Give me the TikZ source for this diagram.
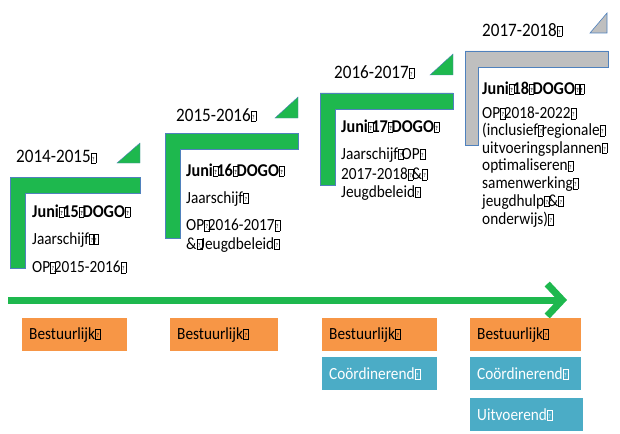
\documentclass[tikz,border=0pt]{standalone}
\usepackage{fontspec}
\setmainfont{Carlito}[FakeStretch=0.9]
\usetikzlibrary{arrows.meta}
\definecolor{lgreen}{RGB}{30,184,78}
\definecolor{lorange}{RGB}{247,150,70}
\definecolor{lblue}{RGB}{75,172,198}
\definecolor{lgray}{RGB}{191,191,191}
\definecolor{ledge}{RGB}{79,129,189}
% missing-glyph box as the picture prints it
\newcommand{\qb}{\makebox[3.6pt][l]{\fboxsep=0pt\fboxrule=0.4pt\fbox{\makebox[4.6pt]{\rule{0pt}{10pt}\raisebox{1.8pt}{\fontsize{6}{6}\selectfont ?}}}}}
\tikzset{
  yeartitle/.style={anchor=west,inner sep=0pt,font=\fontsize{19}{22}\selectfont},
  bodytext/.style={anchor=west,inner sep=0pt,font=\fontsize{17}{18}\selectfont},
  dogo/.style={bodytext,font=\fontsize{18}{19}\selectfont\bfseries},
  lbar/.style={fill=lgreen,draw=ledge,line width=0.4pt},
  lbargray/.style={fill=lgray,draw=ledge,line width=0.6pt},
  timeline/.style={draw=lgreen,line width=7pt,-{Straight Barb[length=15pt,width=32pt]}},
  box/.style={anchor=north west,minimum height=33pt,inner xsep=7pt,inner ysep=0pt,
    align=left,font=\fontsize{17}{19}\selectfont},
  orangebox/.style={box,fill=lorange,text=black},
  bluebox/.style={box,fill=lblue,text=white}
}
\begin{document}
\begin{tikzpicture}[x=1pt,y=-1pt]
\useasboundingbox (0,0) rectangle (620,433);
% 2014-2015
\draw[lbar] (117,163) -- (140,163) -- (140,143) -- cycle;
\draw[lbar] (10,177) -- (140,177) -- (140,193) -- (25,193) -- (25,268) -- (10,268) -- cycle;
\node[yeartitle] (t1) at (16,157) {2014-2015\qb};
\node[dogo] (j1) at (32,211) {Juni\qb15\qb DOGO\qb};
\node[bodytext] (a1) at (32,240) {Jaarschijf\qb\qb};
\node[bodytext] (b1) at (32,267) {OP\qb2015-2016\qb};
% 2015-2016
\draw[lbar] (275,118) -- (298,118) -- (298,97) -- cycle;
\draw[lbar] (165,133) -- (298,133) -- (298,149) -- (180,149) -- (180,238) -- (165,238) -- cycle;
\node[yeartitle] (t2) at (176,115) {2015-2016\qb};
\node[dogo] (j2) at (186,170) {Juni\qb16\qb DOGO\qb};
\node[bodytext] (a2) at (186,199) {Jaarschijf\qb};
\node[bodytext] (b2) at (186,225) {OP\qb2016-2017\qb};
\node[bodytext] (c2) at (186,245) {\&\qb Jeugdbeleid\qb};
% 2016-2017
\draw[lbar] (430,75) -- (453,75) -- (453,54) -- cycle;
\draw[lbar] (320,93) -- (453,93) -- (453,109) -- (335,109) -- (335,185) -- (320,185) -- cycle;
\node[yeartitle] (t3) at (334,72) {2016-2017\qb};
\node[dogo] (j3) at (341,126) {Juni\qb17\qb DOGO\qb};
\node[bodytext] (a3) at (341,155) {Jaarschijf\qb OP\qb};
\node[bodytext] (b3) at (341,174) {2017-2018\qb\&\qb};
\node[bodytext] (c3) at (341,193) {Jeugdbeleid\qb};
% 2017-2018
\draw[lbargray] (590,33) -- (607,33) -- (607,13) -- cycle;
\draw[lbargray] (465,51) -- (608,51) -- (608,67) -- (478,67) -- (478,145) -- (465,145) -- cycle;
\node[yeartitle] (t4) at (482,30) {2017-2018\qb};
\node[dogo] (j4) at (482,88) {Juni\qb18\qb DOGO\qb\qb};
\foreach \txt [count=\i from 0] in {{OP\qb2018-2022\qb},{(inclusief\qb regionale\qb},
    {uitvoeringsplannen\qb},{optimaliseren\qb},{samenwerking\qb},{jeugdhulp\qb\&\qb},{onderwijs)\qb}}
  \node[bodytext] (r4\i) at (482,113+17.8*\i) {\txt};
% timeline
\coordinate (start) at (8,300);
\coordinate (end) at (567,300);
\draw[timeline] (start) -- (end);
% levels
\node[orangebox,text width=91pt] (best1) at (22,318) {Bestuurlijk\qb};
\node[orangebox,text width=94pt] (best2) at (170,318) {Bestuurlijk\qb};
\node[orangebox,text width=101pt] (best3) at (322,318) {Bestuurlijk\qb};
\node[orangebox,text width=97pt] (best4) at (470,318) {Bestuurlijk\qb};
\node[bluebox,text width=101pt] (coor3) at (322,357) {Coördinerend\qb};
\node[bluebox,text width=97pt] (coor4) at (470,357) {Coördinerend\qb};
\node[bluebox,text width=99pt] (uitv4) at (470,398) {Uitvoerend\qb};
\end{tikzpicture}
\end{document}
